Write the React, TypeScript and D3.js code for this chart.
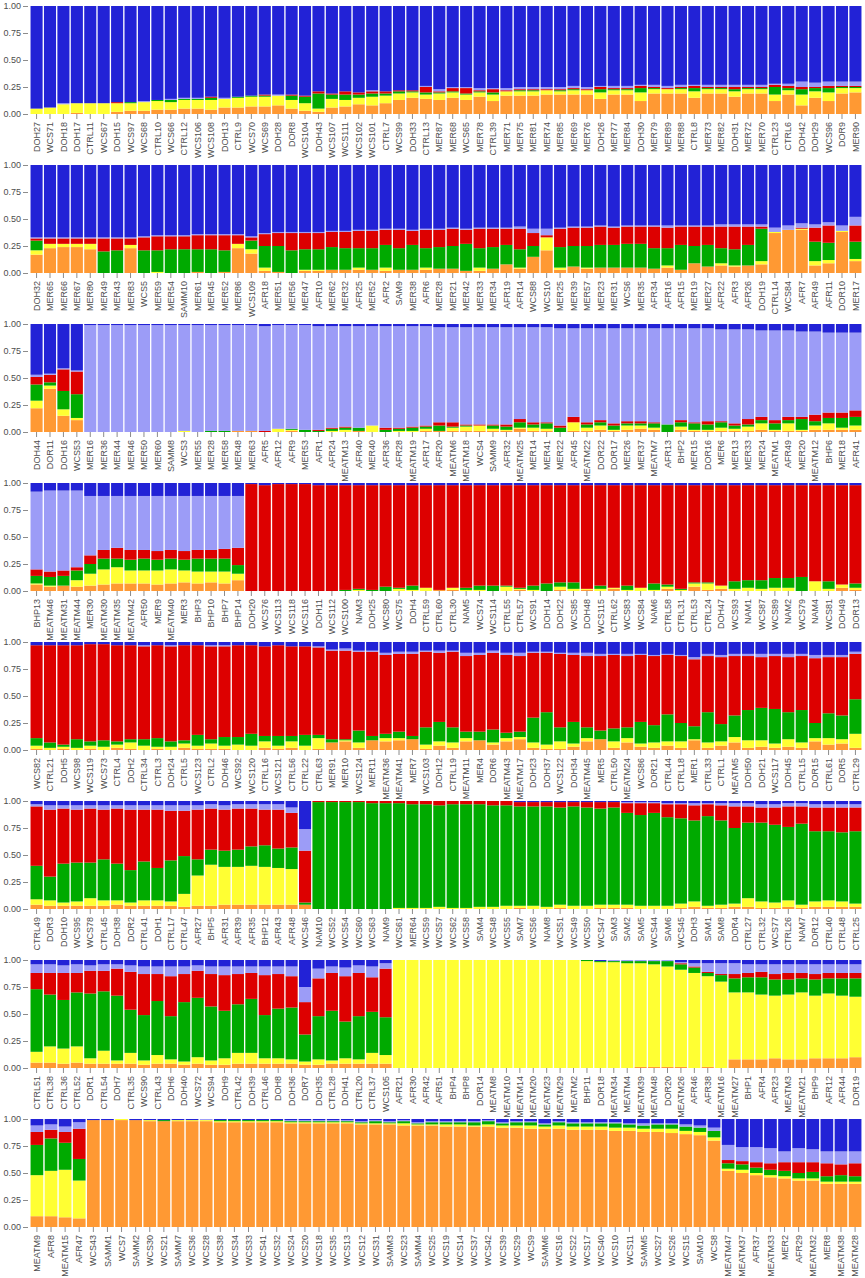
import { useEffect, useRef } from "react";
import * as d3 from "d3";

// ── Ancestry components, bottom → top ─────────────────────────────────────────
const KEYS = ["orange", "yellow", "green", "red", "lavender", "blue"];
const COLOURS: Record<string, string> = {
  orange: "#ff9933",
  yellow: "#ffff33",
  green: "#00aa00",
  red: "#dd0000",
  lavender: "#9c9cf7",
  blue: "#2222d6",
};
const Y_TICKS = [0, 0.25, 0.5, 0.75, 1];

// ── Panel 1 ───────────────────────────────────────────────────────────────────
const LABELS_1 = ["DOH27","WCS71","DOH18","DOH17","CTRL11","WCS67","DOH15","WCS97","WCS68","CTRL10","WCS66","CTRL12","WCS106","WCS108","DOH13","CTRL9","WCS70","WCS69","DOH28","DOR8","WCS104","DOH43","WCS107","WCS111","WCS102","WCS101","CTRL7","WCS99","DOH33","CTRL13","MER87","MER68","WCS65","MER78","CTRL39","MER71","MER75","MER81","MER74","MER85","MER69","MER76","DOH26","MER77","MER84","DOH30","MER79","MER89","MER88","CTRL8","MER73","MER82","DOH31","MER72","MER70","CTRL23","CTRL6","DOH42","DOH29","WCS96","DOR9","MER90"];
// [orange, yellow, green, red, lavender, blue] in percent
const Q_1 = [
  [0,5,0,0,0,95],[0,6,0,0,0,94],[0,9,0,0,1,90],[1,9,0,0,0,90],[0,10,0,0,0,90],[0,10,0,0,0,90],
  [2,8,0,1,0,89],[3,7,1,0,0,89],[3,8,0,0,1,88],[4,8,1,0,0,87],[4,7,2,0,1,86],[5,8,1,0,1,85],
  [5,8,1,0,1,85],[4,9,2,1,0,84],[6,8,0,0,1,85],[6,9,1,0,0,84],[7,9,1,0,0,83],[7,9,1,1,0,82],
  [8,9,0,0,1,82],[5,8,4,1,0,82],[3,7,6,1,0,83],[2,3,14,2,0,79],[6,8,4,1,0,81],[7,6,5,3,0,79],
  [9,6,3,2,0,80],[8,8,3,2,1,78],[10,7,2,2,0,79],[13,6,2,1,0,78],[15,5,1,1,0,78],[14,4,2,5,1,74],
  [13,6,1,1,2,77],[15,5,1,3,1,75],[13,5,1,5,1,75],[16,4,1,1,2,76],[12,6,2,3,1,76],[17,4,0,1,2,76],
  [17,4,1,1,2,75],[17,4,1,1,2,75],[18,4,0,1,2,75],[18,3,1,1,2,75],[18,4,1,1,2,74],[18,4,0,1,2,75],
  [14,6,3,2,1,74],[18,4,1,1,2,74],[18,4,1,1,2,74],[12,8,4,2,1,73],[19,4,1,1,2,73],[19,4,0,1,2,74],
  [19,4,1,1,2,73],[15,6,3,2,1,73],[19,4,1,1,2,73],[19,4,1,1,2,73],[16,5,2,2,2,73],[19,4,1,1,2,73],
  [19,4,1,1,2,73],[12,6,7,2,1,72],[18,4,2,2,2,72],[8,10,5,2,5,70],[15,6,3,1,4,71],[12,8,4,2,4,70],
  [19,5,1,1,4,70],[20,4,1,1,4,70],
];

// ── Panel 2 ───────────────────────────────────────────────────────────────────
const LABELS_2 = ["DOH32","MER65","MER66","MER67","MER80","MER49","MER43","MER83","WCS5","MER59","MER54","SAMM10","MER61","MER45","MER52","MER86","WCS109","AFR18","MER51","MER56","MER47","AFR10","MER62","MER32","AFR25","MER52","AFR2","SAM9","MER38","AFR6","MER28","MER21","MER42","MER33","MER34","AFR19","AFR14","WCS88","WCS10","MER25","MER39","MER57","MER23","MER31","WCS6","MER35","AFR34","AFR16","AFR15","MER19","MER27","AFR22","AFR3","AFR26","DOH19","CTRL14","WCS84","AFR7","AFR49","AFR11","DOR10","MER17"];
const Q_2 = [
  [17,4,9,2,1,67],[23,4,0,5,1,67],[24,3,0,5,1,67],[24,3,0,5,1,67],[22,5,0,5,1,67],[0,0,20,12,1,67],
  [0,0,21,11,1,67],[23,3,0,6,1,67],[0,0,21,12,1,66],[0,1,20,13,1,65],[0,0,22,12,1,65],[0,0,22,12,1,65],
  [1,0,21,13,1,64],[0,0,22,13,1,64],[1,0,20,14,1,64],[23,4,0,8,1,64],[18,4,8,3,1,66],[2,3,20,11,1,63],
  [1,0,24,12,1,62],[0,0,21,16,1,62],[2,1,19,15,1,62],[2,1,19,15,1,62],[3,0,21,14,1,61],[3,0,20,15,1,61],
  [3,2,18,16,1,60],[3,0,20,16,1,60],[2,3,21,14,1,59],[3,0,20,17,1,59],[3,0,23,13,1,60],[3,2,18,17,1,59],
  [4,0,20,16,1,59],[4,0,21,16,1,58],[2,0,25,13,1,59],[2,3,18,18,1,58],[4,0,20,17,1,58],[8,0,18,15,1,58],
  [4,1,17,19,2,57],[15,0,10,12,4,59],[21,12,0,2,6,59],[3,2,19,17,1,58],[6,0,19,17,1,57],[4,1,20,17,1,57],
  [5,0,21,17,1,56],[5,0,21,16,1,57],[5,0,22,16,1,56],[5,0,22,16,1,56],[4,0,19,20,1,56],[5,2,16,19,2,56],
  [3,0,23,17,1,56],[9,0,16,18,1,56],[6,0,20,17,1,56],[7,2,14,20,2,55],[6,1,15,21,2,55],[7,0,19,17,2,55],
  [8,3,30,2,2,55],[37,1,0,0,4,58],[40,0,0,0,4,56],[40,1,0,1,4,54],[7,4,18,13,3,55],[9,3,16,16,3,53],
  [38,1,0,0,5,56],[11,2,16,15,8,48],
];

// ── Panel 3 ───────────────────────────────────────────────────────────────────
const LABELS_3 = ["DOH44","DOR11","DOH16","WCS53","MER16","MER36","MER44","MER46","MER50","MER60","SAMM8","WCS3","MER55","MER28","MER58","MER48","MER63","AFR5","AFR12","AFR9","MER53","AFR1","AFR24","MEATM13","AFR40","MER40","AFR36","AFR28","MEATM19","AFR17","AFR20","MEATM6","MEATM18","WCS4","SAMM9","AFR32","MEATM25","MER14","MER41","MER22","AFR45","MEATM22","DOR22","DOR17","MER26","MER37","MEATM7","AFR13","BHP2","MER15","DOR16","MER6","MER13","MER33","MER24","MEATM1","AFR49","MER20","MEATM12","BHP6","MER18","AFR41"];
const Q_3 = [
  [22,7,15,7,2,47],[40,3,3,7,1,46],[15,6,17,20,1,41],[11,2,22,21,1,43],[0,0,0,0,99,1],[0,0,0,0,99,1],
  [0,0,0,0,99,1],[0,0,0,0,99,1],[0,0,0,0,99,1],[0,0,0,0,99,1],[0,0,0,0,99,1],[0,1,0,0,98,1],
  [0,0,0,0,99,1],[0,0,1,0,98,1],[0,0,1,0,98,1],[1,0,0,0,98,1],[1,0,0,0,98,1],[0,0,0,1,97,2],
  [0,3,0,0,96,1],[1,1,1,0,96,1],[0,0,2,0,97,1],[0,0,1,1,96,2],[0,1,2,1,94,2],[0,2,2,1,93,2],
  [1,0,3,0,94,2],[0,6,0,0,92,2],[0,0,2,2,94,2],[0,1,2,1,94,2],[0,1,3,1,93,2],[1,2,2,1,92,2],
  [1,0,5,3,88,3],[1,3,1,4,88,3],[1,4,1,1,90,3],[1,5,0,1,90,3],[1,2,3,1,90,3],[1,1,3,2,90,3],
  [3,1,5,3,85,3],[1,3,3,2,88,3],[1,2,5,1,88,3],[0,0,4,2,90,4],[1,8,0,5,82,4],[1,3,3,2,87,4],
  [2,4,3,2,85,4],[1,1,4,2,88,4],[2,4,2,2,86,4],[3,3,2,2,86,4],[2,2,4,1,87,4],[0,0,7,0,89,4],
  [2,3,4,2,85,4],[1,1,6,1,87,4],[1,1,5,3,86,4],[1,3,5,1,85,5],[1,2,3,2,87,5],[1,4,2,5,83,5],
  [2,6,3,3,80,6],[1,1,6,3,83,6],[1,7,3,3,80,6],[1,1,10,2,79,7],[2,4,4,6,77,7],[2,6,5,5,74,8],
  [2,2,9,5,74,8],[2,4,8,6,72,8],
];

// ── Panel 4 ───────────────────────────────────────────────────────────────────
const LABELS_4 = ["BHP13","MEATM46","MEATM31","MEATM44","MER30","MEATM30","MEATM35","MEATM42","AFR50","MER9","MEATM40","MER3","BHP3","BHP10","BHP7","BHP14","DOH20","WCS76","WCS113","WCS118","WCS116","DOH11","WCS112","WCS100","NAM3","DOH25","WCS80","WCS75","DOH4","CTRL59","CTRL60","CTRL30","NAM5","WCS74","WCS114","CTRL55","CTRL57","WCS91","DOH14","DOH22","WCS85","DOH48","WCS115","CTRL62","WCS83","WCS84","NAM6","CTRL58","CTRL31","CTRL53","CTRL24","DOH47","WCS93","NAM1","WCS87","WCS89","NAM2","WCS79","NAM4","WCS81","DOH49","DOR13"];
const Q_4 = [
  [6,1,7,6,72,8],[4,1,8,5,75,7],[5,0,9,5,74,7],[4,6,9,3,71,7],[5,11,9,8,55,12],[6,14,10,8,50,12],
  [7,15,8,10,48,12],[7,12,10,9,50,12],[7,12,11,8,50,12],[6,13,10,8,51,12],[7,13,10,8,50,12],[8,11,10,8,51,12],
  [7,11,12,8,50,12],[8,10,12,8,50,12],[7,11,12,9,49,12],[10,6,8,16,48,12],[0,0,0,99,0,1],[0,0,0,98,0,2],
  [0,0,0,99,0,1],[0,0,0,99,0,1],[0,0,0,99,0,1],[0,0,0,98,0,2],[0,0,0,98,0,2],[0,0,1,97,0,2],
  [0,1,1,96,0,2],[0,0,1,97,0,2],[0,0,4,94,0,2],[0,2,1,95,0,2],[0,1,4,93,0,2],[0,3,0,95,0,2],
  [1,0,0,97,0,2],[1,2,0,95,0,2],[0,1,2,95,0,2],[0,1,4,93,0,2],[0,0,5,93,0,2],[0,4,1,93,0,2],
  [1,1,1,95,0,2],[0,1,4,93,0,2],[0,0,7,91,0,2],[1,3,4,90,0,2],[0,2,6,90,0,2],[1,1,0,96,0,2],
  [0,2,3,93,0,2],[2,1,0,95,0,2],[0,1,4,93,0,2],[0,3,0,95,0,2],[0,1,6,91,0,2],[2,2,2,92,0,2],
  [0,1,1,96,0,2],[4,3,1,90,0,2],[1,6,1,90,0,2],[2,3,0,93,0,2],[0,2,7,89,0,2],[0,3,7,88,0,2],
  [0,2,8,88,0,2],[0,3,9,86,0,2],[0,3,9,86,0,2],[0,0,13,85,0,2],[0,9,0,89,0,2],[0,2,7,89,0,2],
  [3,3,0,92,0,2],[1,2,4,91,0,2],
];

// ── Panel 5 ───────────────────────────────────────────────────────────────────
const LABELS_5 = ["WCS82","CTRL21","DOH5","WCS98","WCS119","WCS73","CTRL4","DOH2","CTRL34","CTRL3","DOH24","CTRL5","WCS123","CTRL2","DOH46","WCS92","WCS120","CTRL16","WCS121","CTRL56","CTRL22","CTRL63","MER91","MER10","WCS124","MER11","MEATM36","MEATM41","MER7","WCS103","DOH12","CTRL19","MEATM11","MER4","DOR6","MEATM43","MEATM17","DOH23","DOH37","WCS122","DOH34","MEATM45","MER5","CTRL50","MEATM24","WCS86","DOR21","CTRL44","CTRL18","MER1","CTRL33","CTRL1","MEATM5","DOH50","DOH21","WCS117","DOH45","CTRL15","DOR15","CTRL61","DOR5","CTRL29"];
const Q_5 = [
  [1,3,7,86,0,3],[0,2,5,90,0,3],[1,2,2,92,0,3],[0,2,8,87,0,3],[1,3,4,90,0,2],[0,3,6,89,0,2],
  [2,3,3,89,0,3],[1,6,3,87,0,3],[0,4,6,86,1,3],[1,2,8,86,0,3],[0,3,5,88,1,3],[2,4,3,88,0,3],
  [1,3,10,83,0,3],[1,5,4,86,1,3],[1,3,8,84,1,3],[0,5,7,85,0,3],[0,4,11,82,0,3],[2,6,5,83,0,4],
  [1,3,9,84,0,3],[2,6,5,83,0,4],[0,4,10,82,0,4],[1,10,3,81,1,4],[7,0,3,82,1,7],[8,1,1,82,2,6],
  [2,5,11,73,1,8],[9,0,4,78,1,8],[8,3,4,73,2,10],[9,2,6,72,2,9],[10,0,3,76,2,9],[1,4,16,70,1,8],
  [4,4,18,64,2,8],[2,5,14,70,1,8],[8,3,6,70,3,10],[9,0,8,71,2,10],[5,2,12,71,2,8],[8,3,5,72,2,10],
  [10,2,5,70,3,10],[2,5,23,60,1,9],[1,4,30,55,1,9],[1,7,13,68,1,10],[3,3,20,62,2,10],[8,3,10,66,3,10],
  [10,0,8,69,2,11],[2,6,12,68,1,11],[7,4,10,66,2,11],[3,3,20,62,1,11],[2,5,16,64,1,12],[4,4,25,55,1,11],
  [2,6,17,62,1,12],[9,1,12,62,2,14],[2,5,28,52,2,11],[4,4,16,62,2,12],[7,5,20,55,2,11],[2,7,28,50,2,11],
  [3,6,30,47,3,11],[2,4,32,49,2,11],[3,7,25,51,3,11],[2,5,30,50,2,11],[8,3,14,60,3,12],[5,6,23,52,2,12],
  [6,4,22,54,2,12],[2,13,32,42,2,9],
];

// ── Panel 6 ───────────────────────────────────────────────────────────────────
const LABELS_6 = ["CTRL49","DOR3","DOH10","WCS95","WCS78","CTRL45","DOH38","DOR2","CTRL41","DOH1","CTRL17","CTRL47","AFR27","BHP5","AFR31","AFR39","AFR35","BHP12","AFR43","AFR48","WCS46","NAM10","WCS52","WCS54","WCS60","WCS63","NAM9","WCS61","MER64","WCS59","WCS57","WCS62","WCS58","SAM4","WCS48","WCS55","SAM7","WCS56","NAM8","WCS51","WCS49","WCS50","WCS47","SAM3","SAM2","SAM5","WCS44","SAM6","WCS45","DOH3","SAM1","SAM8","DOR4","CTRL27","CTRL32","WCS77","CTRL26","NAM7","DOR12","CTRL40","CTRL48","CTRL25"];
const Q_6 = [
  [4,5,31,55,2,3],[3,5,22,62,4,4],[3,3,36,51,3,4],[3,4,36,49,4,4],[3,7,33,50,3,4],[3,5,38,46,4,4],
  [4,4,34,51,3,4],[3,3,30,56,4,4],[3,5,36,48,4,4],[3,5,30,54,4,4],[3,4,38,46,5,4],[2,12,35,42,5,4],
  [3,28,15,46,4,4],[3,38,14,38,4,3],[4,35,15,38,4,4],[4,35,16,38,4,3],[4,36,18,35,4,3],[4,35,20,33,5,3],
  [4,34,18,36,5,3],[4,33,20,32,5,6],[4,0,2,48,20,26],[0,0,99,1,0,0],[0,0,99,1,0,0],[0,0,99,1,0,0],
  [0,0,99,1,0,0],[0,0,98,2,0,0],[0,0,98,2,0,0],[0,1,97,2,0,0],[0,1,96,3,0,0],[0,1,96,3,0,0],
  [0,2,94,4,0,0],[0,1,96,3,0,0],[0,1,96,3,0,0],[0,2,95,3,0,0],[0,2,94,4,0,0],[0,3,93,4,0,0],
  [1,2,92,4,0,1],[0,3,92,4,0,1],[0,2,93,4,0,1],[1,3,90,5,0,1],[0,3,92,4,0,1],[0,3,91,5,0,1],
  [1,3,89,6,0,1],[1,3,90,5,0,1],[1,3,85,9,1,1],[0,3,84,11,1,1],[0,3,86,9,1,1],[0,3,82,12,1,2],
  [1,4,79,13,1,2],[2,5,75,14,2,2],[1,2,83,11,1,2],[1,3,78,14,2,2],[2,3,70,20,3,2],[2,8,70,15,3,2],
  [1,6,73,14,3,3],[1,5,72,16,3,3],[2,6,68,19,3,2],[1,3,75,16,3,2],[2,5,65,22,3,3],[2,6,64,22,3,3],
  [2,5,64,23,3,3],[2,3,67,22,3,3],
];

// ── Panel 7 ───────────────────────────────────────────────────────────────────
const LABELS_7 = ["CTRL51","CTRL38","CTRL36","CTRL52","DOR1","CTRL54","DOH7","CTRL35","WCS90","CTRL43","DOH6","DOH40","WCS72","WCS94","DOH9","CTRL42","DOH39","CTRL46","DOH8","DOH36","DOR7","DOH35","CTRL28","DOH41","CTRL20","CTRL37","WCS105","AFR21","AFR30","AFR42","AFR51","BHP4","BHP8","DOR14","MEATM8","MEATM10","MEATM14","MEATM20","MEATM23","MEATM29","MEATM2","BHP11","DOR18","MEATM34","MEATM4","MEATM39","MEATM48","DOR20","MEATM26","AFR46","AFR38","MEATM16","MEATM27","BHP1","AFR4","AFR23","MEATM3","MEATM21","BHP9","AFR12","AFR44","DOR19"];
const Q_7 = [
  [5,10,58,15,8,4],[5,15,48,20,8,4],[4,14,45,25,7,5],[5,15,50,18,8,4],[4,5,60,21,5,5],[4,12,55,19,6,4],
  [4,3,60,25,4,4],[4,10,40,35,6,5],[3,4,42,38,7,6],[4,8,50,25,7,6],[4,4,40,37,9,6],[3,3,55,26,7,6],
  [4,6,55,25,5,5],[3,4,50,30,7,6],[3,6,44,33,8,6],[4,10,45,28,7,6],[4,10,50,24,6,6],[4,5,40,37,8,6],
  [4,5,46,32,7,6],[4,4,48,29,9,6],[3,3,25,30,14,25],[3,5,40,35,9,8],[4,3,46,35,6,6],[4,5,34,42,8,7],
  [4,4,40,40,7,5],[4,10,38,32,10,6],[4,8,35,45,5,3],[0,100,0,0,0,0],[0,100,0,0,0,0],[0,100,0,0,0,0],
  [0,100,0,0,0,0],[0,100,0,0,0,0],[0,100,0,0,0,0],[0,100,0,0,0,0],[0,100,0,0,0,0],[0,100,0,0,0,0],
  [0,100,0,0,0,0],[0,100,0,0,0,0],[0,100,0,0,0,0],[0,100,0,0,0,0],[0,100,0,0,0,0],[0,99,1,0,0,0],
  [0,98,1,0,0,1],[0,98,1,0,1,0],[0,97,2,0,1,0],[1,96,2,0,1,0],[1,95,3,0,1,0],[1,93,5,0,1,0],
  [1,90,5,1,1,2],[0,88,5,1,3,3],[1,84,3,1,8,3],[0,80,6,1,10,3],[8,62,13,4,10,3],[8,62,14,4,8,4],
  [8,60,16,5,7,4],[9,58,15,5,9,4],[8,60,14,6,8,4],[8,62,13,5,8,4],[9,58,15,5,9,4],[9,60,14,5,8,4],
  [9,58,16,5,8,4],[10,56,17,5,8,4],
];

// ── Panel 8 ───────────────────────────────────────────────────────────────────
const LABELS_8 = ["MEATM9","AFR8","MEATM15","AFR47","WCS43","SAMM1","WCS7","SAMM2","WCS30","WCS21","SAMM7","WCS36","WCS28","WCS38","WCS34","WCS33","WCS41","WCS32","WCS24","WCS20","WCS18","WCS35","WCS13","WCS12","WCS31","SAMM3","WCS23","SAMM4","WCS25","WCS19","WCS14","WCS37","WCS42","WCS39","WCS29","WCS9","SAMM6","WCS16","WCS22","WCS17","WCS40","WCS10","WCS11","SAMM5","WCS27","WCS26","WCS15","SAM10","WCS8","MEATM47","MEATM37","AFR37","MEATM33","MER2","AFR29","MEATM32","MER8","MEATM38","MEATM28"];
const Q_8 = [
  [10,38,28,12,6,6],[10,42,30,8,5,5],[9,44,25,10,5,7],[8,35,20,28,6,3],[99,0,0,0,0,1],[99,0,0,0,0,1],
  [99,1,0,0,0,0],[99,0,0,0,0,1],[98,1,0,0,0,1],[98,0,1,0,0,1],[98,1,0,0,0,1],[98,1,0,0,0,1],
  [98,1,0,0,1,0],[97,1,1,0,0,1],[97,1,1,0,0,1],[97,1,1,0,0,1],[97,1,1,0,0,1],[97,1,1,0,0,1],
  [96,1,1,0,1,1],[96,1,1,0,1,1],[96,1,1,0,1,1],[96,1,1,0,1,1],[96,1,1,0,1,1],[95,1,1,0,1,2],
  [95,1,2,0,1,1],[95,1,1,0,1,2],[94,2,2,0,1,1],[94,1,1,0,1,3],[94,1,2,0,1,2],[93,2,2,0,1,2],
  [93,2,2,0,1,2],[93,1,3,0,1,2],[93,2,3,0,1,1],[92,2,2,0,1,3],[92,2,3,0,1,2],[91,3,3,0,1,2],
  [91,2,2,0,1,4],[91,3,3,0,1,2],[90,3,3,0,1,3],[90,3,3,0,1,3],[90,3,3,0,1,3],[89,3,4,0,1,3],
  [89,3,3,0,1,4],[88,3,3,0,2,4],[88,3,4,0,1,4],[87,4,4,0,1,4],[86,3,4,0,2,5],[85,3,4,0,2,6],
  [80,3,6,0,3,8],[52,2,5,3,14,24],[50,3,5,3,13,26],[48,2,5,5,14,26],[46,2,5,6,14,27],[45,2,5,8,10,30],
  [43,2,5,10,13,27],[43,2,6,9,12,28],[40,2,5,12,11,30],[40,2,6,10,12,30],[40,2,5,12,11,30],
];

const PANELS = [
  { labels: LABELS_1, rows: Q_1 },
  { labels: LABELS_2, rows: Q_2 },
  { labels: LABELS_3, rows: Q_3 },
  { labels: LABELS_4, rows: Q_4 },
  { labels: LABELS_5, rows: Q_5 },
  { labels: LABELS_6, rows: Q_6 },
  { labels: LABELS_7, rows: Q_7 },
  { labels: LABELS_8, rows: Q_8 },
];

// ── Layout ────────────────────────────────────────────────────────────────────
const W = 865;
const H = 1278;
const PITCH = 159;
const TOP = 6;
const PLOT_H = 108;
const LEFT = 30;
const RIGHT = 862;
const FONT = "'Liberation Sans', Arial, sans-serif";

function Panel({ labels, rows, index }: { labels: string[]; rows: number[][]; index: number }) {
  const axisRef = useRef<SVGGElement>(null);

  const ids = labels.map((_, i) => String(i));
  const x = d3.scaleBand<string>().domain(ids).range([LEFT, RIGHT]).paddingInner(0.1).paddingOuter(0.04);
  const y = d3.scaleLinear().domain([0, 1]).range([PLOT_H, 0]);

  // each row is a set of membership proportions; normalise to the full bar
  const data = rows.map((r) => {
    const total = d3.sum(r) || 1;
    const o: Record<string, number> = {};
    KEYS.forEach((k, j) => (o[k] = r[j] / total));
    return o;
  });
  const series = d3.stack<Record<string, number>>().keys(KEYS)(data);

  useEffect(() => {
    if (!axisRef.current) return;
    const g = d3.select(axisRef.current);
    g.selectAll("*").remove();

    g.append("g")
      .attr("transform", `translate(${LEFT - 2},0)`)
      .call(d3.axisLeft(y).tickValues(Y_TICKS).tickFormat(d3.format(".2f")).tickSize(5).tickPadding(2))
      .call((ag) => {
        ag.select(".domain").remove();
        ag.selectAll("line").attr("stroke", "#8c8c8c");
        ag.selectAll("text").attr("font-size", 9).attr("fill", "#4d4d4d").attr("font-family", FONT);
      });

    g.append("g")
      .attr("transform", `translate(0,${PLOT_H})`)
      .call(
        d3
          .axisBottom(x)
          .tickFormat((i) => labels[+i])
          .tickSize(5)
      )
      .call((ag) => {
        ag.select(".domain").remove();
        ag.selectAll("line").attr("stroke", "#8c8c8c");
        ag.selectAll("text")
          .attr("font-size", 9)
          .attr("fill", "#4d4d4d")
          .attr("font-family", FONT)
          .attr("transform", "rotate(-90)")
          .attr("x", -8)
          .attr("y", 0)
          .attr("dy", "0.35em")
          .attr("text-anchor", "end");
      });
  }, [labels]);

  return (
    <g transform={`translate(0,${TOP + index * PITCH})`}>
      {series.map((s) => (
        <g key={s.key} fill={COLOURS[s.key]}>
          {s.map((d, i) => (
            <rect
              key={i}
              x={x(String(i))}
              y={y(d[1])}
              width={x.bandwidth()}
              height={Math.max(0, y(d[0]) - y(d[1]))}
            />
          ))}
        </g>
      ))}
      <g ref={axisRef} />
    </g>
  );
}

export default function App() {
  return (
    <svg
      width={W}
      height={H}
      style={{ position: "absolute", left: 0, top: 0, display: "block", background: "#fff" }}
    >
      {PANELS.map((p, i) => (
        <Panel key={i} labels={p.labels} rows={p.rows} index={i} />
      ))}
    </svg>
  );
}
